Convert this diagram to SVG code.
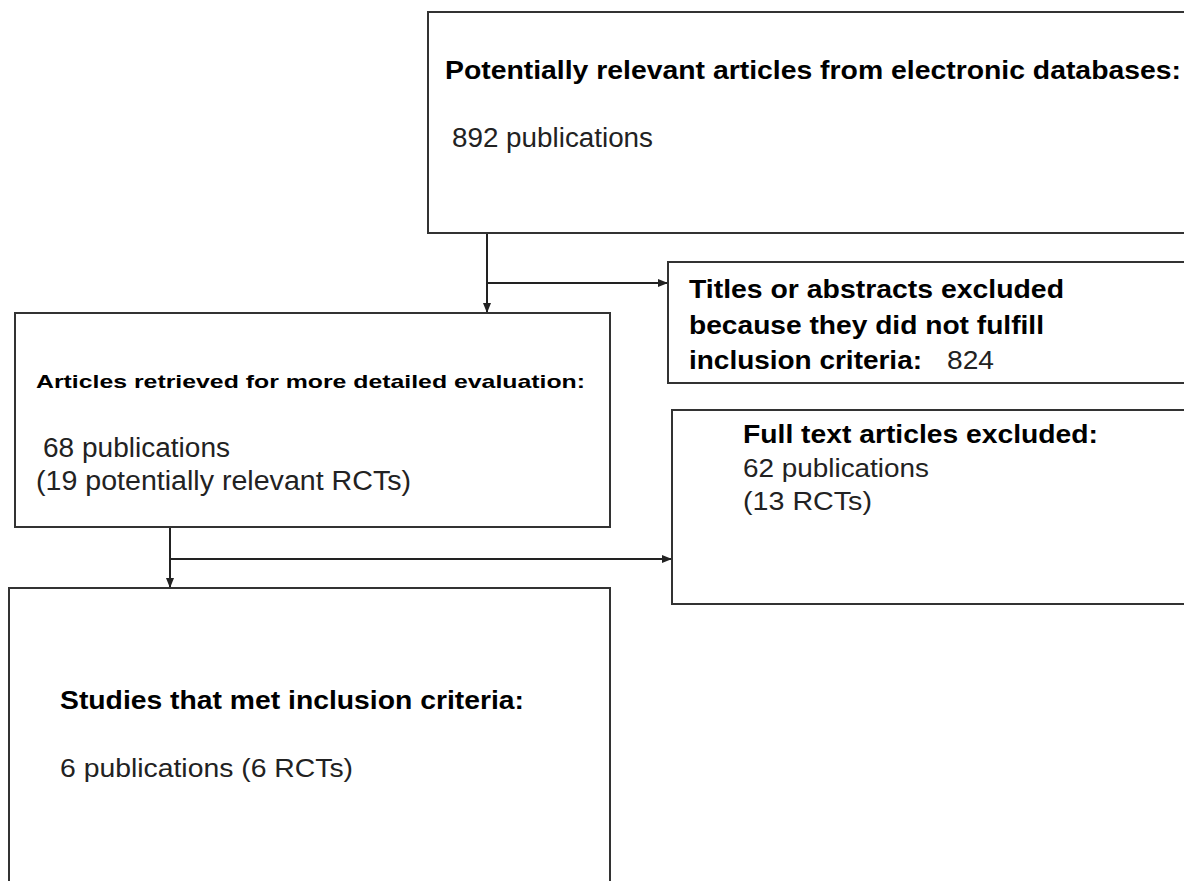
<svg xmlns="http://www.w3.org/2000/svg" width="1184" height="881" viewBox="0 0 1184 881">
<style>
.box{fill:#fff;stroke:#333;stroke-width:2}
.b{font-family:"Liberation Sans",Arial,sans-serif;font-weight:bold;fill:#000}
.r{font-family:"Liberation Sans",Arial,sans-serif;fill:#222}
.c{fill:none;stroke:#222;stroke-width:2}
</style>
<defs>
<marker id="ah" markerWidth="10" markerHeight="8" refX="10" refY="4" orient="auto" markerUnits="userSpaceOnUse">
<path d="M0,0 L10,4 L0,8 Z" fill="#222"/>
</marker>
</defs>
<rect width="1184" height="881" fill="#fff"/>
<g id="connectors">
<path class="c" d="M487,233 V313" marker-end="url(#ah)"/>
<path class="c" d="M487,283 H668" marker-end="url(#ah)"/>
<path class="c" d="M170,527 V588" marker-end="url(#ah)"/>
<path class="c" d="M170,559 H672" marker-end="url(#ah)"/>
</g>
<g id="node-databases">
<rect class="box" x="428" y="12" width="780" height="221"/>
<text class="b" x="445" y="79" font-size="26" textLength="736" lengthAdjust="spacingAndGlyphs">Potentially relevant articles from electronic databases:</text>
<text class="r" x="452" y="147" font-size="27" textLength="201" lengthAdjust="spacingAndGlyphs">892 publications</text>
</g>
<g id="node-titles-excluded">
<rect class="box" x="668" y="262" width="540" height="121"/>
<text class="b" x="689" y="298" font-size="26" textLength="375" lengthAdjust="spacingAndGlyphs">Titles or abstracts excluded</text>
<text class="b" x="689" y="334" font-size="26" textLength="355" lengthAdjust="spacingAndGlyphs">because they did not fulfill</text>
<text class="b" x="689" y="369" font-size="26" textLength="233" lengthAdjust="spacingAndGlyphs">inclusion criteria:</text>
<text class="r" x="947" y="369" font-size="26" textLength="47" lengthAdjust="spacingAndGlyphs">824</text>
</g>
<g id="node-retrieved">
<rect class="box" x="15" y="313" width="595" height="214"/>
<text class="b" x="36" y="388" font-size="19" textLength="549" lengthAdjust="spacingAndGlyphs">Articles retrieved for more detailed evaluation:</text>
<text class="r" x="43" y="457" font-size="27" textLength="187" lengthAdjust="spacingAndGlyphs">68 publications</text>
<text class="r" x="36" y="490" font-size="27" textLength="375" lengthAdjust="spacingAndGlyphs">(19 potentially relevant RCTs)</text>
</g>
<g id="node-fulltext-excluded">
<rect class="box" x="672" y="410" width="540" height="194"/>
<text class="b" x="743" y="443" font-size="26" textLength="355" lengthAdjust="spacingAndGlyphs">Full text articles excluded:</text>
<text class="r" x="743" y="477" font-size="26" textLength="186" lengthAdjust="spacingAndGlyphs">62 publications</text>
<text class="r" x="743" y="510" font-size="26" textLength="129" lengthAdjust="spacingAndGlyphs">(13 RCTs)</text>
</g>
<g id="node-included">
<rect class="box" x="9" y="588" width="601" height="320"/>
<text class="b" x="60" y="709" font-size="25" textLength="464" lengthAdjust="spacingAndGlyphs">Studies that met inclusion criteria:</text>
<text class="r" x="60" y="777" font-size="25" textLength="293" lengthAdjust="spacingAndGlyphs">6 publications (6 RCTs)</text>
</g>
</svg>
